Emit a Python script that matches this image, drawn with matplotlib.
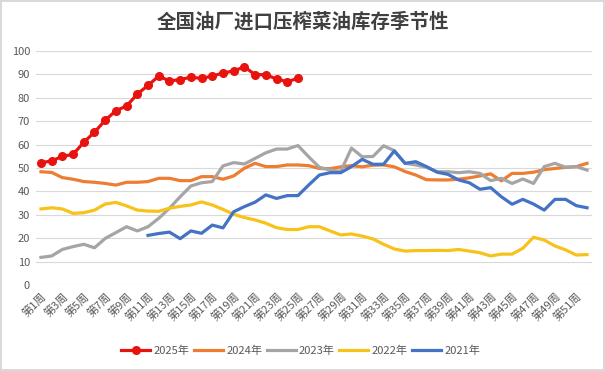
import matplotlib.pyplot as plt
import numpy as np

plt.rcParams['font.family'] = ['Noto Sans CJK SC', 'DejaVu Sans']

# week numbers and tick labels
weeks = np.arange(1, 53)
tick_weeks = np.arange(1, 53, 2)
tick_labels = [f"第{w}周" for w in tick_weeks]

# series values (inventory, 10k tons)
y2025 = [52.3, 53.0, 55.0, 55.8, 61.0, 65.3, 70.4, 74.5, 76.5, 81.6, 85.3, 89.3, 87.2,
         87.8, 88.8, 88.3, 89.3, 90.6, 91.5, 93.2, 89.9, 89.9, 88.0, 86.9, 88.3]
y2024 = [48.4, 48.1, 45.9, 45.2, 44.2, 43.9, 43.4, 42.7, 43.9, 43.9, 44.2, 45.6, 45.6,
         44.6, 44.6, 46.3, 46.3, 45.2, 46.6, 49.9, 52.0, 50.6, 50.6, 51.3, 51.3, 51.0,
         49.8, 49.7, 50.5, 51.0, 50.5, 51.2, 51.3, 50.5, 48.5, 47.0, 45.0, 44.9, 44.9,
         45.2, 45.8, 46.6, 47.5, 44.5, 47.7, 47.7, 48.2, 49.3, 49.8, 50.3, 50.6, 52.0]
y2023 = [11.8, 12.4, 15.2, 16.4, 17.4, 15.9, 19.9, 22.4, 24.9, 23.1, 24.9, 28.5, 32.8,
         37.7, 42.3, 43.7, 44.2, 50.9, 52.3, 51.7, 54.1, 56.5, 58.1, 58.1, 59.6, 54.8,
         50.3, 49.1, 48.6, 58.5, 54.8, 54.9, 59.5, 57.4, 52.0, 51.3, 50.3, 48.4, 48.4,
         48.0, 48.4, 47.7, 44.6, 45.6, 43.4, 45.3, 43.4, 50.6, 52.0, 50.3, 50.6, 49.1]
y2022 = [32.5, 33.0, 32.5, 30.6, 30.9, 32.0, 34.6, 35.3, 33.8, 32.0, 31.6, 31.5, 32.8,
         33.6, 34.2, 35.5, 34.2, 32.3, 30.2, 28.8, 27.8, 26.4, 24.5, 23.7, 23.7, 24.9,
         24.9, 23.1, 21.4, 21.8, 20.9, 19.7, 17.4, 15.4, 14.5, 14.7, 14.7, 14.8, 14.7,
         15.2, 14.5, 13.8, 12.4, 13.2, 13.2, 15.7, 20.4, 19.2, 16.7, 15.0, 12.8, 13.0]
y2021 = [None] * 10 + [
         21.2, 22.0, 22.6, 19.8, 23.1, 22.1, 25.6, 24.4, 31.3, 33.5, 35.4, 38.5, 37.0,
         38.2, 38.2, 42.7, 47.0, 48.0, 48.0, 50.6, 53.7, 51.6, 51.6, 57.3, 52.0, 52.7,
         50.6, 48.2, 47.3, 44.9, 43.7, 40.9, 41.6, 37.7, 34.5, 36.6, 34.6, 32.0, 36.6,
         36.6, 33.9, 33.0]

fig = plt.figure(figsize=(6.05, 3.71), dpi=100)
fig.patch.set_edgecolor('#D9D9D9')
fig.patch.set_linewidth(1.5)
ax = fig.add_axes([35.6 / 605, 1 - 285 / 371, (592.4 - 35.6) / 605, (285 - 51) / 371])

lw = 2.3
ax.plot(weeks, y2024, color='#ED7D31', lw=lw, label='2024年', zorder=3)
ax.plot(weeks, y2023, color='#A5A5A5', lw=lw, label='2023年', zorder=4)
ax.plot(weeks, y2022, color='#F7C21A', lw=lw, label='2022年', zorder=5)
y21 = np.array([np.nan if v is None else v for v in y2021])
ax.plot(weeks, y21, color='#4472C4', lw=lw, label='2021年', zorder=6)
ax.plot(weeks[:len(y2025)], y2025, color='#E8130F', lw=lw, marker='o', ms=5.5,
        label='2025年', zorder=7)

ax.set_xlim(0.5, 52.5)
ax.set_ylim(0, 100)
ax.set_yticks(np.arange(0, 101, 10))
ax.set_xticks(tick_weeks)
ax.set_xticklabels(tick_labels, rotation=45, ha='right', va='top',
                   rotation_mode='anchor', fontsize=8, color='#595959')
ax.tick_params(axis='y', labelsize=8, labelcolor='#595959', length=0, pad=4)
ax.tick_params(axis='x', length=0, pad=4)
ax.grid(axis='y', color='#D9D9D9', lw=0.8)
ax.set_axisbelow(True)
for s in ax.spines.values():
    s.set_visible(False)

fig.text(0.5, 1 - 22 / 371, '全国油厂进口压榨菜油库存季节性', ha='center', va='center',
         fontsize=14, fontweight='bold', color='#404040')

handles, labels = ax.get_legend_handles_labels()
order = [4, 0, 1, 2, 3]
fig.legend([handles[i] for i in order], [labels[i] for i in order],
           loc='center', bbox_to_anchor=(0.497, 1 - 351 / 371), ncol=5, frameon=False,
           fontsize=8, handlelength=2.6, handletextpad=0.3, columnspacing=0.4,
           labelcolor='#595959')

fig.savefig('out.png', dpi=100)
